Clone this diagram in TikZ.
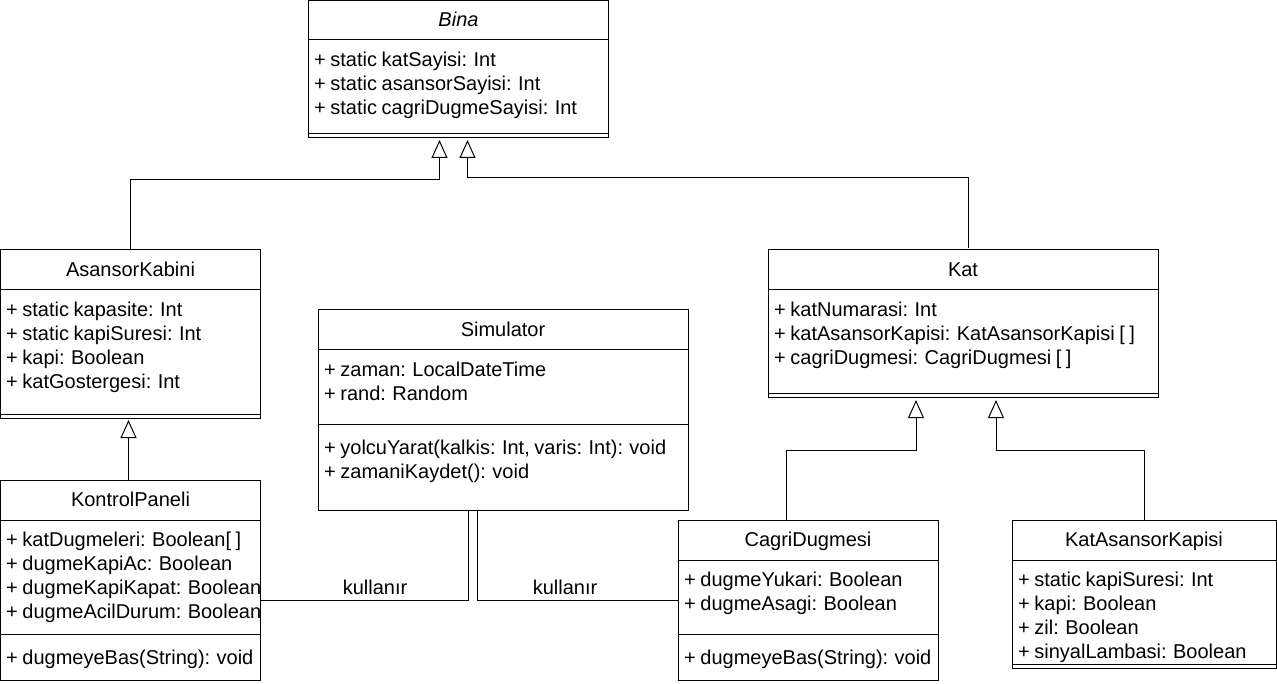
\documentclass[tikz,border=0pt]{standalone}
\usepackage{fontspec}
\setmainfont[WordSpace=0.82]{Liberation Sans}
\usetikzlibrary{arrows.meta}
\begin{document}
\begin{tikzpicture}[x=1pt,y=-1pt,
 cls/.style={draw=black, line width=1pt, fill=white, anchor=north west, inner sep=0pt, outer sep=0pt},
 txt/.style={anchor=base west, inner sep=0pt, font=\fontsize{20}{24}\selectfont},
 ttl/.style={anchor=base, inner sep=0pt, font=\fontsize{20}{24}\selectfont},
 sepline/.style={line width=1pt},
 gen/.style={line width=1pt, -{Triangle[open,length=18pt,width=16pt,fill=white]}},
 uses/.style={line width=1pt}]
\useasboundingbox (0,0) rectangle (1277,684);
% ---------- Bina
\node[cls, minimum width=300pt, minimum height=137.5pt] (bina) at (308.5,0.5) {};
\draw[sepline] (308.5,40) -- (608.5,40);
\draw[sepline] (308.5,134) -- (608.5,134);
\node[ttl, font=\fontsize{20}{24}\selectfont\itshape] (binat) at (458.5,26.5) {Bina};
\node[txt] (bina1) at (314,66.5) {+ static katSayisi: Int};
\node[txt] (bina2) at (314,90.5) {+ static asansorSayisi: Int};
\node[txt] (bina3) at (314,114.5) {+ static cagriDugmeSayisi: Int};
% ---------- AsansorKabini
\node[cls, minimum width=260pt, minimum height=168pt] (kabin) at (0.5,250) {};
\draw[sepline] (0.5,290) -- (260.5,290);
\draw[sepline] (0.5,414) -- (260.5,414);
\node[ttl] (kabint) at (130.5,276.5) {AsansorKabini};
\node[txt] (kabin1) at (6,316.5) {+ static kapasite: Int};
\node[txt] (kabin2) at (6,340.5) {+ static kapiSuresi: Int};
\node[txt] (kabin3) at (6,364.5) {+ kapi: Boolean};
\node[txt] (kabin4) at (6,388.5) {+ katGostergesi: Int};
% ---------- KontrolPaneli
\node[cls, minimum width=260pt, minimum height=200pt] (panel) at (0.5,480) {};
\draw[sepline] (0.5,520) -- (260.5,520);
\draw[sepline] (0.5,634) -- (260.5,634);
\node[ttl] (panelt) at (130.5,506.5) {KontrolPaneli};
\begin{scope}
\clip (0.5,480) rectangle (260,680);
\node[txt] (panel1) at (6,546.5) {+ katDugmeleri: Boolean[ ]};
\node[txt] (panel2) at (6,570.5) {+ dugmeKapiAc: Boolean};
\node[txt] (panel3) at (6,594.5) {+ dugmeKapiKapat: Boolean};
\node[txt] (panel4) at (6,618.5) {+ dugmeAcilDurum: Boolean};
\end{scope}
\node[txt] (panel5) at (6,664.5) {+ dugmeyeBas(String): void};
% ---------- Simulator
\node[cls, minimum width=370pt, minimum height=200pt] (sim) at (318,310) {};
\draw[sepline] (318,350) -- (688,350);
\draw[sepline] (318,424) -- (688,424);
\node[ttl] (simt) at (503,336.5) {Simulator};
\node[txt] (sim1) at (324,376.5) {+ zaman: LocalDateTime};
\node[txt] (sim2) at (324,400.5) {+ rand: Random};
\node[txt] (sim3) at (324,454.5) {+ yolcuYarat(kalkis: Int, varis: Int): void};
\node[txt] (sim4) at (324,478.5) {+ zamaniKaydet(): void};
% ---------- Kat
\node[cls, minimum width=390pt, minimum height=148pt] (kat) at (768,250) {};
\draw[sepline] (768,290) -- (1158,290);
\draw[sepline] (768,394) -- (1158,394);
\node[ttl] (katt) at (963,276.5) {Kat};
\node[txt] (kat1) at (774,316.5) {+ katNumarasi: Int};
\node[txt] (kat2) at (774,340.5) {+ katAsansorKapisi: KatAsansorKapisi [ ]};
\node[txt] (kat3) at (774,364.5) {+ cagriDugmesi: CagriDugmesi [ ]};
% ---------- CagriDugmesi
\node[cls, minimum width=260pt, minimum height=160pt] (cagri) at (678,520) {};
\draw[sepline] (678,560) -- (938,560);
\draw[sepline] (678,634) -- (938,634);
\node[ttl] (cagrit) at (808,546.5) {CagriDugmesi};
\node[txt] (cagri1) at (684,586.5) {+ dugmeYukari: Boolean};
\node[txt] (cagri2) at (684,610.5) {+ dugmeAsagi: Boolean};
\node[txt] (cagri3) at (684,664.5) {+ dugmeyeBas(String): void};
% ---------- KatAsansorKapisi
\node[cls, minimum width=264pt, minimum height=148pt] (kapi) at (1012,520) {};
\draw[sepline] (1012,560) -- (1276,560);
\draw[sepline] (1012,664) -- (1276,664);
\node[ttl] (kapit) at (1144,546.5) {KatAsansorKapisi};
\node[txt] (kapi1) at (1018,586.5) {+ static kapiSuresi: Int};
\node[txt] (kapi2) at (1018,610.5) {+ kapi: Boolean};
\node[txt] (kapi3) at (1018,634.5) {+ zil: Boolean};
\node[txt] (kapi4) at (1018,658.5) {+ sinyalLambasi: Boolean};
% ---------- generalizations
\draw[gen] (kabin.north) -- ++(0,-70) -| ([xshift=-19pt,yshift=-2pt]bina.south);
\draw[gen] ([xshift=5pt,yshift=2pt]kat.north) -- ++(0,-70) -| ([xshift=9pt,yshift=-2pt]bina.south);
\draw[gen] ([xshift=-2pt]panel.north) -- ([xshift=-2pt,yshift=-2pt]kabin.south);
\draw[gen] ([xshift=-22pt]cagri.north) -- ++(0,-70) -| ([xshift=-47pt,yshift=-2pt]kat.south);
\draw[gen] (kapi.north) -- ++(0,-70) -| ([xshift=33pt,yshift=-2pt]kat.south);
% ---------- uses
\draw[uses] ([xshift=-35pt]sim.south) |- ([yshift=-20pt]panel.east);
\draw[uses] ([xshift=-26pt]sim.south) |- (cagri.west);
\node[ttl] (use1) at (375,594.5) {kullanır};
\node[ttl] (use2) at (565,594.5) {kullanır};
\end{tikzpicture}
\end{document}
